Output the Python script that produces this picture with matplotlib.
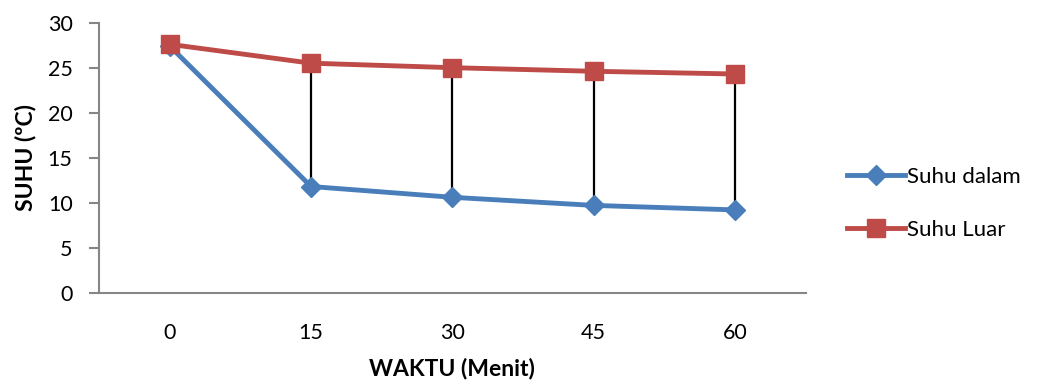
import matplotlib.pyplot as plt

# data
waktu = ["0", "15", "30", "45", "60"]
suhu_dalam = [27.4, 11.8, 10.6, 9.7, 9.2]
suhu_luar = [27.6, 25.5, 25.0, 24.6, 24.3]

plt.rcParams['font.family'] = ['Lato', 'DejaVu Sans']

fig = plt.figure(figsize=(10.37, 3.8), dpi=100)
ax = fig.add_axes([0.0955, 0.2297, 0.6815, 0.7106])

x = range(len(waktu))

# high-low lines between the two series
ax.vlines(list(x)[1:], suhu_dalam[1:], suhu_luar[1:], color='black', linewidth=1.6, zorder=2)

ax.plot(x, suhu_dalam, color='#4a7ebb', linewidth=3.5, marker='D', markersize=10,
        markeredgecolor='#4a7ebb', label='Suhu dalam', zorder=3)
ax.plot(x, suhu_luar, color='#be4b48', linewidth=3.5, marker='s', markersize=13,
        markeredgecolor='#be4b48', label='Suhu Luar', zorder=3)

ax.set_xlim(-0.5, len(waktu) - 0.5)
ax.set_ylim(0, 30)
ax.set_yticks(range(0, 31, 5))
ax.set_xticks(list(x))
ax.set_xticklabels(waktu)

for s in ['top', 'right']:
    ax.spines[s].set_visible(False)
for s in ['left', 'bottom']:
    ax.spines[s].set_color('#868686')
    ax.spines[s].set_linewidth(1.5)

ax.tick_params(axis='y', length=7, width=1.5, color='#868686', labelsize=15.5, pad=12)
ax.tick_params(axis='x', length=0, labelsize=15.5, pad=22)

ax.set_xlabel("WAKTU (Menit)", fontsize=16.5, fontweight='bold', labelpad=10)
ax.set_ylabel("SUHU (ºC)", fontsize=16.5, fontweight='bold', labelpad=8)

ax.legend(loc='center left', bbox_to_anchor=(1.03, 0.33), frameon=False, fontsize=16,
          handlelength=2.6, handletextpad=0.1, labelspacing=1.5)

fig.savefig("out.png", dpi=100)
